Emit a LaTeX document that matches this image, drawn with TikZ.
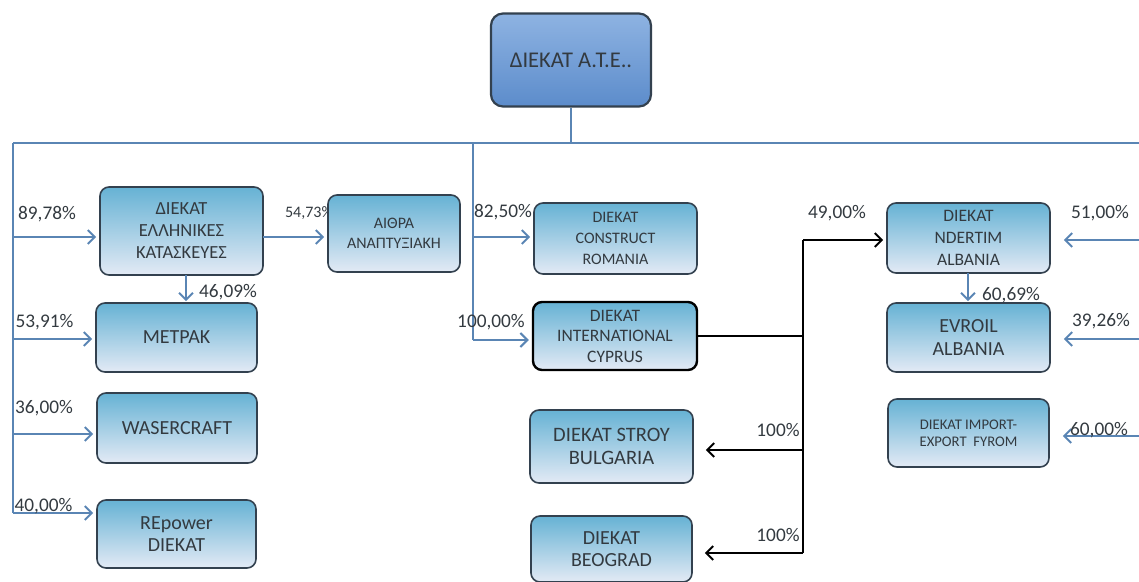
\documentclass[tikz,border=0pt]{standalone}
\usepackage{fontspec}
\setmainfont{Carlito}
\usetikzlibrary{arrows.meta}
\definecolor{txt}{HTML}{333A40}
\definecolor{edge}{HTML}{33414F}
\definecolor{bl}{HTML}{5A85B4}
\definecolor{boxtop}{HTML}{66B2D4}
\definecolor{boxbot}{HTML}{E3EAF5}
\definecolor{toptop}{HTML}{8EB3E2}
\definecolor{topbot}{HTML}{5C8CCB}
\tikzset{
  box/.style={draw=edge, line width=1.6pt, rounded corners=9pt, top color=#1, bottom color=boxbot,
    align=center, text=txt, inner sep=0pt, font=\fontsize{15}{17}\selectfont},
  box/.default=boxtop,
  big/.style={font=\fontsize{20}{22.5}\selectfont},
  mid/.style={font=\fontsize{17.5}{20.5}\selectfont},
  small/.style={font=\fontsize{14.7}{17}\selectfont},
  bline/.style={draw=bl, line width=2.6pt},
  barrow/.style={bline, -{Straight Barb[length=7pt,width=14pt,line width=2pt]}, shorten >=3pt},
  kline/.style={draw=black, line width=2.4pt},
  karrow/.style={kline, -{Straight Barb[length=7pt,width=14pt,line width=2pt]}, shorten >=3pt},
  pct/.style={text=txt, inner sep=0pt, font=\fontsize{19.3}{21}\selectfont},
}
\begin{document}
\begin{tikzpicture}[x=1pt,y=-1pt]
\useasboundingbox (0,0) rectangle (1139,581);
% labels that sit under boxes
\node[pct, font=\fontsize{16}{18}\selectfont] (l5473) at (309,213) {54,73\%};
% boxes
\node[box=toptop, bottom color=topbot, line width=2.2pt, rounded corners=12pt, minimum width=160pt, minimum height=93pt, font=\fontsize{22.5}{25}\selectfont] (top) at (571,60) {ΔΙΕΚΑΤ Α.Τ.Ε..};
\node[box, font=\fontsize{18.5}{22}\selectfont, minimum width=163pt, minimum height=88pt] (ell) at (181.5,231) {ΔΙΕΚΑΤ\\ΕΛΛΗΝΙΚΕΣ\\ΚΑΤΑΣΚΕΥΕΣ};
\node[box, big, minimum width=161pt, minimum height=69pt] (metpak) at (176.5,337.5) {ΜΕΤΡΑΚ};
\node[box, big, minimum width=160pt, minimum height=70pt] (waser) at (177,428) {WASERCRAFT};
\node[box, big, minimum width=159pt, minimum height=68pt] (repower) at (176.5,534) {REpower\\DIEKAT};
\node[box, font=\fontsize{16}{20}\selectfont, minimum width=132pt, minimum height=77pt] (aithra) at (394,233.5) {ΑΙΘΡΑ\\ΑΝΑΠΤΥΞΙΑΚΗ};
\node[box, font=\fontsize{16}{21}\selectfont, minimum width=163pt, minimum height=71pt] (romania) at (615.5,238.5) {DIEKAT\\CONSTRUCT\\ROMANIA};
\node[box, mid, draw=black, line width=2.4pt, minimum width=164pt, minimum height=68pt] (cyprus) at (615,336) {DIEKAT\\INTERNATIONAL\\CYPRUS};
\node[box, font=\fontsize{20.5}{23}\selectfont, minimum width=163pt, minimum height=73pt] (stroy) at (611.5,446.5) {DIEKAT STROY\\BULGARIA};
\node[box, big, minimum width=161pt, minimum height=66pt] (beograd) at (611.5,549) {DIEKAT\\BEOGRAD};
\node[box, font=\fontsize{17.5}{22}\selectfont, minimum width=163pt, minimum height=70pt] (ndertim) at (968.5,238) {DIEKAT\\NDERTIM\\ALBANIA};
\node[box, big, minimum width=163pt, minimum height=69pt] (evroil) at (968.5,337.5) {EVROIL\\ALBANIA};
\node[box, small, minimum width=161pt, minimum height=68pt] (fyrom) at (968.5,433) {DIEKAT IMPORT-\\EXPORT\ \ FYROM};
% coordinates
\coordinate (hL) at (13,143);
\coordinate (hR) at (1139,143);
\coordinate (hT) at (571,143);
\coordinate (t1) at (13,237);
\coordinate (t2) at (13,339);
\coordinate (t3) at (13,434);
\coordinate (t4) at (13,513);
\coordinate (m0) at (473,143);
\coordinate (m1) at (473,237);
\coordinate (m2) at (473,340);
\coordinate (k0) at (803,240);
\coordinate (k1) at (803,336);
\coordinate (k2) at (803,450);
\coordinate (k3) at (803,553);
\coordinate (r1) at (1139,240);
\coordinate (r2) at (1139,339);
\coordinate (r3) at (1139,436);
\coordinate (e1) at (263,237);
\coordinate (d1) at (186,275);
\coordinate (d2) at (968,273);
% blue connectors
\draw[bline] (top.south) -- (hT);
\draw[bline] (hL) -- (hR);
\draw[bline] (hL) -- (t4);
\draw[barrow] (t1) -- (ell.west |- t1);
\draw[barrow] (t2) -- (metpak.west |- t2);
\draw[barrow] (t3) -- (waser.west |- t3);
\draw[barrow] (t4) -- (repower.west |- t4);
\draw[barrow] (e1) -- (aithra.west |- e1);
\draw[barrow, shorten >=1pt] (d1) -- (d1 |- metpak.north);
\draw[bline] (m0) -- (m2);
\draw[barrow] (m1) -- (romania.west |- m1);
\draw[barrow] (m2) -- (cyprus.west |- m2);
\draw[barrow, shorten >=1pt] (d2) -- (d2 |- evroil.north);
\draw[barrow, shorten >=13pt] (r1) -- (ndertim.east |- r1);
\draw[barrow, shorten >=13pt] (r2) -- (evroil.east |- r2);
\draw[barrow, shorten >=13pt] (r3) -- (fyrom.east |- r3);
% black connectors
\draw[kline] (cyprus.east |- k1) -- (k1);
\draw[kline] (k0) -- (k3);
\draw[karrow] (k0) -- (ndertim.west |- k0);
\draw[karrow, shorten >=12pt] (k2) -- (stroy.east |- k2);
\draw[karrow, shorten >=12pt] (k3) -- (beograd.east |- k3);
% labels
\node[pct] (l8978) at (47,214) {89,78\%};
\node[pct] (l4609) at (228,292) {46,09\%};
\node[pct] (l5391) at (44.5,322) {53,91\%};
\node[pct] (l3600) at (44,408) {36,00\%};
\node[pct] (l4000) at (43.5,506) {40,00\%};
\node[pct] (l8250) at (503,212) {82,50\%};
\node[pct] (l10000) at (491,322) {100,00\%};
\node[pct] (l4900) at (837,213) {49,00\%};
\node[pct] (l100a) at (778,430) {100\%};
\node[pct] (l100b) at (778,535) {100\%};
\node[pct] (l5100) at (1100,213) {51,00\%};
\node[pct] (l6069) at (1011,295) {60,69\%};
\node[pct] (l3926) at (1101,321) {39,26\%};
\node[pct] (l6000) at (1099,430) {60,00\%};
\end{tikzpicture}
\end{document}
